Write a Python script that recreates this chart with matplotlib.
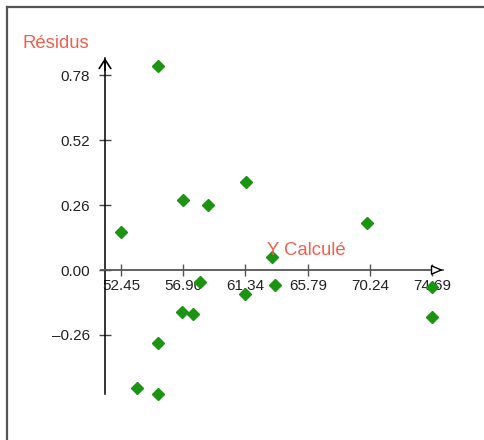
import matplotlib.pyplot as plt
from matplotlib.lines import Line2D

plt.rcParams['font.family'] = ['Liberation Sans', 'DejaVu Sans']

# valeurs
y_calc = [55.09, 56.88, 58.64, 61.38, 70.00, 52.45, 63.21, 58.09, 61.31,
          63.45, 74.64, 74.69, 56.79, 57.61, 55.09, 53.59, 55.09]
residus = [0.817, 0.279, 0.259, 0.351, 0.187, 0.153, 0.053, -0.047, -0.097,
           -0.060, -0.069, -0.189, -0.168, -0.175, -0.293, -0.471, -0.496]
xticks = [52.45, 56.90, 61.34, 65.79, 70.24, 74.69]
yticks = [-0.26, 0.00, 0.26, 0.52, 0.78]

W, H = 485, 440
fig = plt.figure(figsize=(W / 100, H / 100), dpi=100)
ax = fig.add_axes([0, 0, 1, 1])

# pixel -> donnees : x = 121 + (v-52.45)*14, y = 270 - r*250
ax.set_xlim(52.45 - 121 / 14, 52.45 + (W - 121) / 14)
ax.set_ylim(-(H - 270) / 250, 270 / 250)

x_axe = 52.45 - 16 / 14
x_fin = 52.45 + (443 - 121) / 14
y_haut = (270 - 58) / 250
y_bas = -(394 - 270) / 250

for s in ['top', 'right']:
    ax.spines[s].set_visible(False)
ax.spines['bottom'].set_position(('data', 0))
ax.spines['bottom'].set_bounds(x_axe - 4 / 14, x_fin)
ax.spines['bottom'].set_color('#555555')
ax.spines['bottom'].set_linewidth(1.3)
ax.spines['left'].set_position(('data', x_axe))
ax.spines['left'].set_bounds(y_bas, y_haut)
ax.spines['left'].set_color('black')
ax.spines['left'].set_linewidth(1.1)

ax.set_xticks(xticks)
ax.set_xticklabels(['%.2f' % v for v in xticks])
ax.set_yticks(yticks)
ax.set_yticklabels(['%.2f' % v if v >= 0 else '\u2013%.2f' % -v for v in yticks])
ax.tick_params(axis='x', direction='inout', length=8, width=1, colors='#555555',
               labelcolor='#222222', labelsize=11, pad=2.5)
ax.tick_params(axis='y', direction='inout', length=8, width=1, colors='#444444',
               labelcolor='#222222', labelsize=11, pad=7)

# fleches
ax.annotate('', xy=(x_fin, 0), xytext=(x_fin - 10 / 14, 0),
            arrowprops=dict(arrowstyle='-|>,head_length=0.7,head_width=0.3',
                            fc='white', ec='black', lw=1, shrinkA=0, shrinkB=0))
ax.annotate('', xy=(x_axe, y_haut), xytext=(x_axe, y_haut - 0.05),
            arrowprops=dict(arrowstyle='->,head_length=0.65,head_width=0.42',
                            color='black', lw=1.2, shrinkA=0, shrinkB=0))

ax.plot(y_calc, residus, 'D', color='#1b9412', markersize=6.5, linestyle='none',
        zorder=3)

ax.text(23 / W, 1 - 44 / H, 'Résidus', transform=fig.transFigure, color='#f0604d',
        fontsize=13.3, va='center', ha='left')
ax.text(267 / W, 1 - 250 / H, 'Y Calculé', transform=fig.transFigure,
        color='#f0604d', fontsize=13.3, va='center', ha='left')

# cadre
fig.add_artist(Line2D([7 / W, 7 / W], [0, 1 - 7.5 / H], transform=fig.transFigure,
                      color='#555555', lw=1.6))
fig.add_artist(Line2D([7 / W, 1], [1 - 7.5 / H, 1 - 7.5 / H],
                      transform=fig.transFigure, color='#555555', lw=1.6))

fig.savefig('out.png', dpi=100)
